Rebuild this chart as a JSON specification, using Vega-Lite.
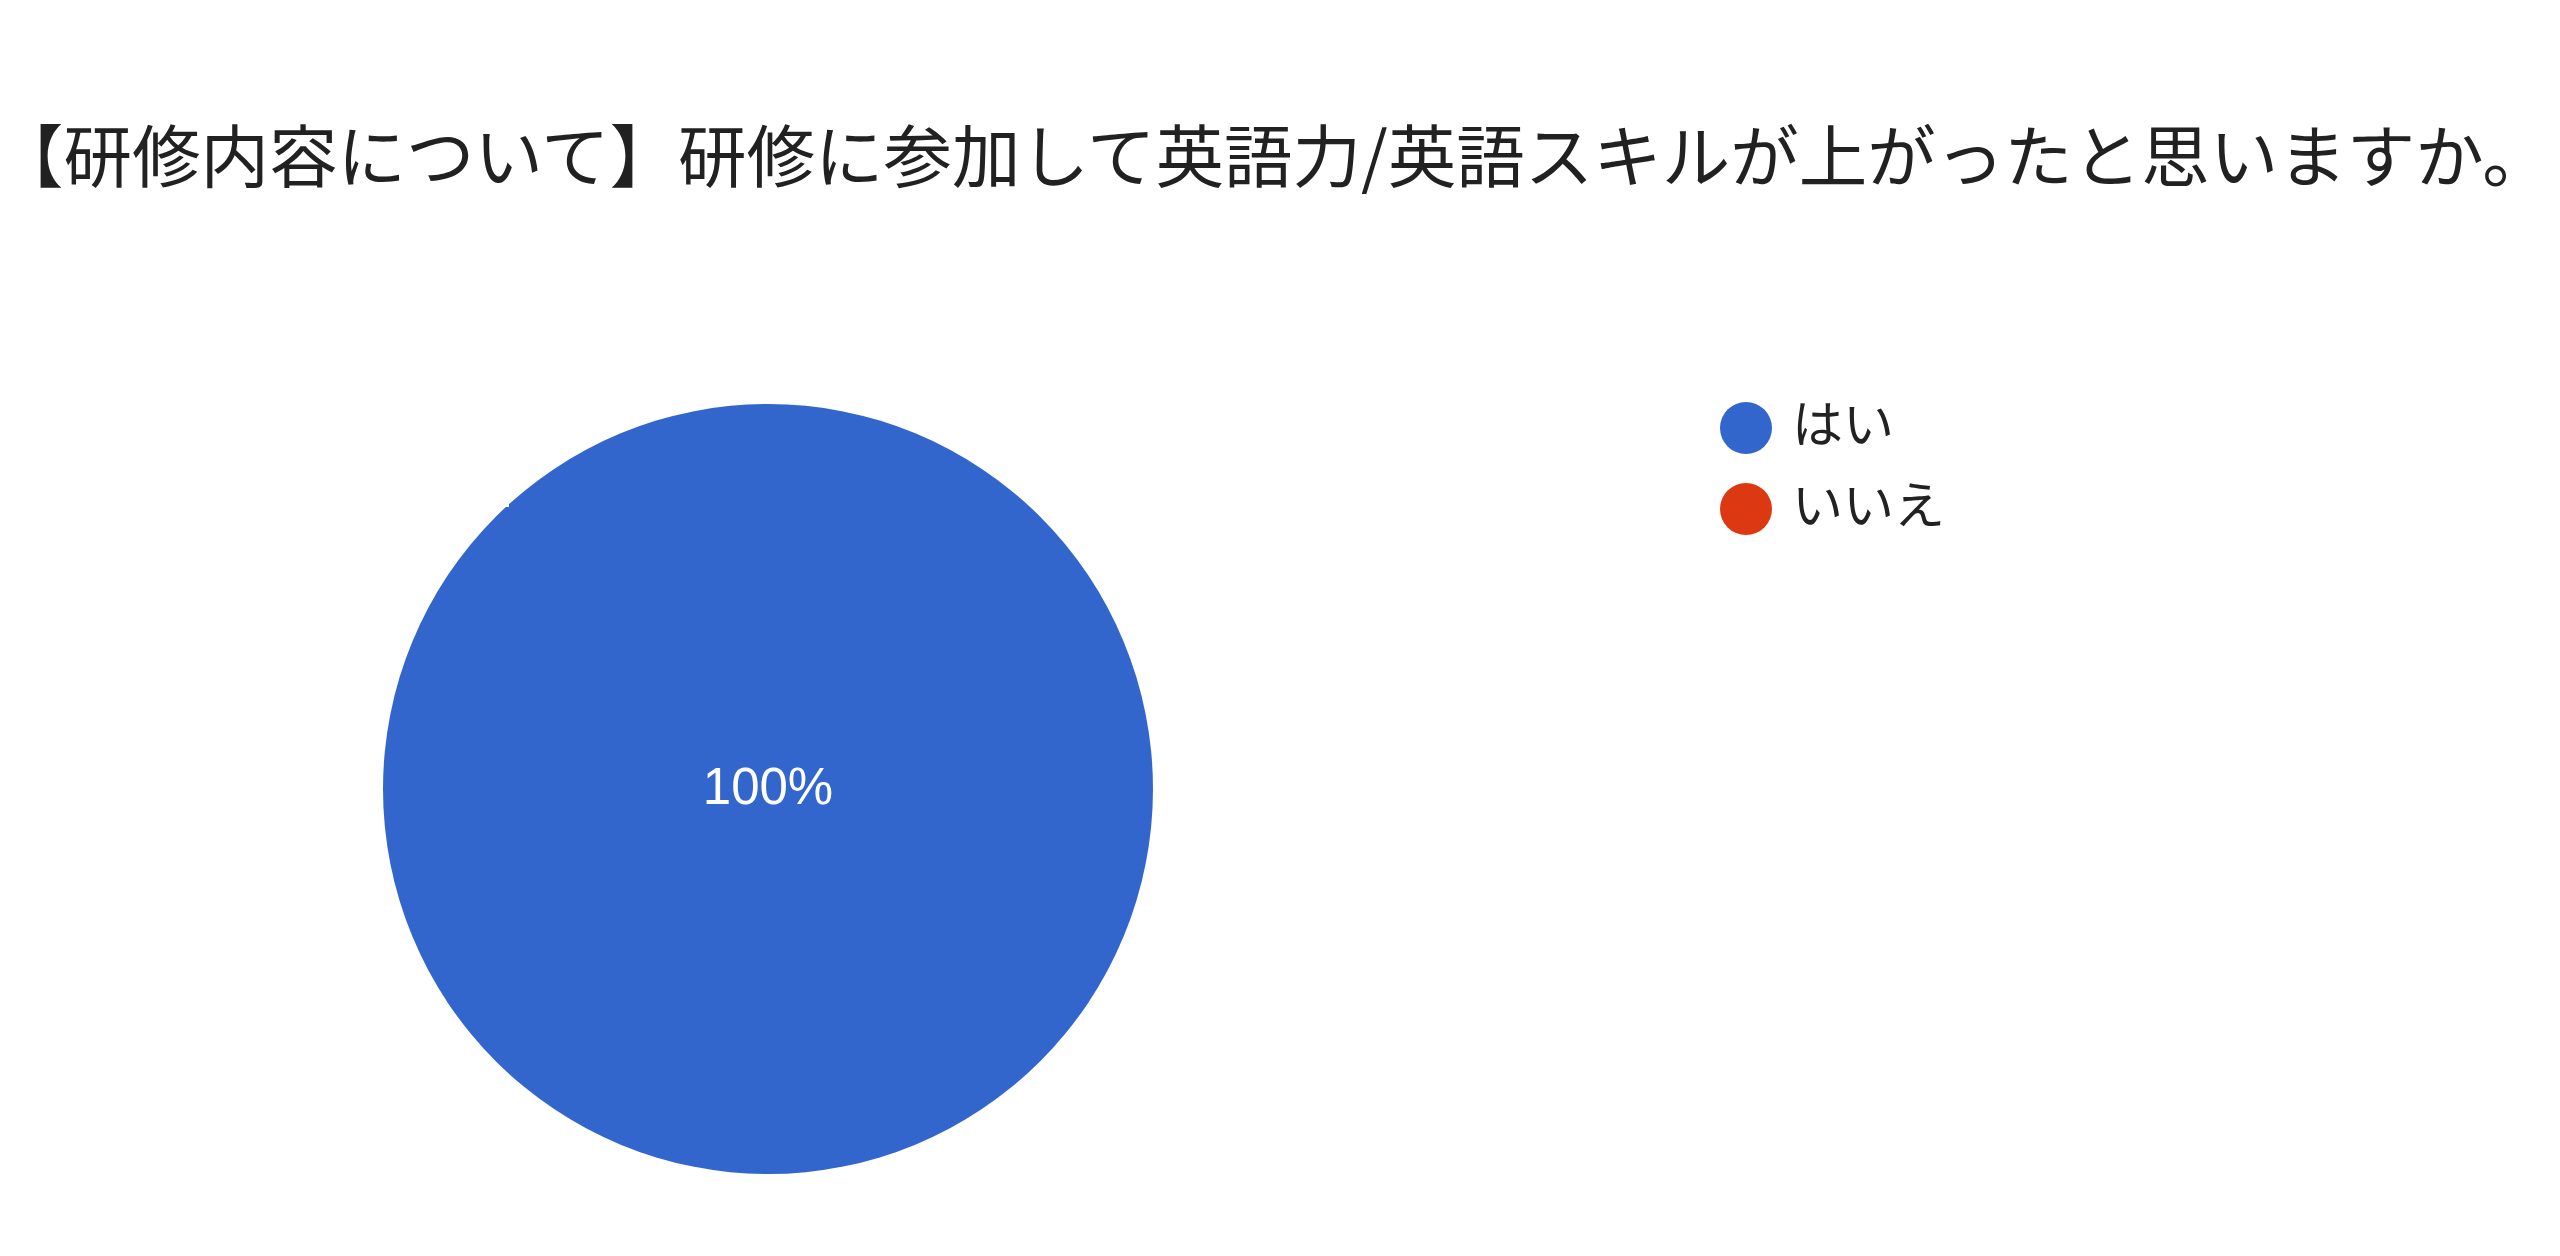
{
  "$schema": "https://vega.github.io/schema/vega-lite/v6.json",
  "autosize": "none",
  "width": 770,
  "height": 770,
  "padding": {"left": 383, "top": 404, "right": 1407, "bottom": 82},
  "background": "white",
  "title": {
    "text": "【研修内容について】研修に参加して英語力/英語スキルが上がったと思いますか。",
    "font": "Noto Sans CJK JP",
    "fontSize": 68.5,
    "fontWeight": "normal",
    "color": "#212121",
    "anchor": "start",
    "frame": "group",
    "dx": -388,
    "offset": 206
  },
  "config": {
    "view": {"stroke": null}
  },
  "data": {
    "values": [
      {"answer": "はい", "count": 100},
      {"answer": "いいえ", "count": 0}
    ]
  },
  "transform": [
    {"joinaggregate": [{"op": "sum", "field": "count", "as": "total"}]},
    {"calculate": "datum.count / datum.total", "as": "pct"}
  ],
  "layer": [
    {
      "mark": {"type": "arc", "outerRadius": 385},
      "encoding": {
        "theta": {"field": "count", "type": "quantitative", "stack": true},
        "order": {"field": "answer", "sort": "descending"},
        "color": {
          "field": "answer",
          "type": "nominal",
          "scale": {"domain": ["はい", "いいえ"], "range": ["#3366cc", "#dc3912"]},
          "legend": {
            "title": null,
            "orient": "none",
            "legendX": 1337,
            "legendY": -2,
            "padding": 0,
            "symbolType": "circle",
            "symbolSize": 2704,
            "symbolStrokeWidth": 0,
            "labelFont": "Noto Sans CJK JP",
            "labelFontSize": 51,
            "labelColor": "#222222",
            "labelOffset": 20,
            "rowPadding": 29
          }
        }
      }
    },
    {
      "transform": [{"filter": "datum.count > 0"}],
      "mark": {"type": "text", "font": "Liberation Sans", "fontSize": 51, "color": "white", "baseline": "middle", "align": "center"},
      "encoding": {
        "text": {"field": "pct", "type": "quantitative", "format": ".0%"}
      }
    }
  ]
}
